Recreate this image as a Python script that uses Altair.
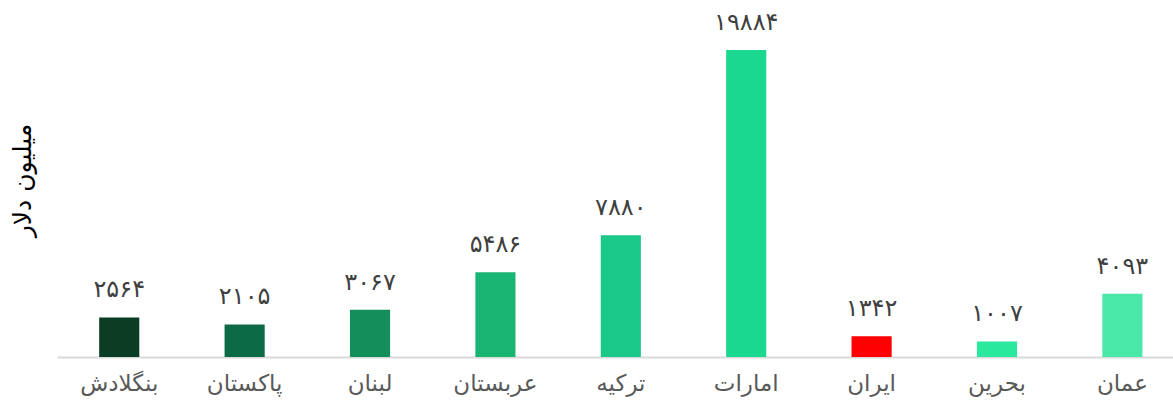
import altair as alt
import pandas as pd

countries = ["بنگلادش", "پاکستان", "لبنان", "عربستان", "ترکیه", "امارات", "ایران", "بحرین", "عمان"]
values = [2564, 2105, 3067, 5486, 7880, 19884, 1342, 1007, 4093]
colors = ["#0b3d25", "#0c6a46", "#138f5c", "#19b572", "#1ac98a", "#1ad890", "#ff0000", "#2ae89e", "#4ae8a8"]

fa_digits = str.maketrans("0123456789", "۰۱۲۳۴۵۶۷۸۹")
df = pd.DataFrame({
    "country": countries,
    "value": values,
    "label": [str(v).translate(fa_digits) for v in values],
})

FONT = "DejaVu Sans"

x = alt.X("country:N", sort=countries,
          scale=alt.Scale(paddingInner=0.68, paddingOuter=0.29, align=0.58),
          axis=alt.Axis(title=None, labelAngle=0, labelFontSize=23, labelColor="#595959",
                        labelFont=FONT, labelPadding=15, ticks=False,
                        domainColor="#d9d9d9", domainWidth=2))
y = alt.Y("value:Q", scale=alt.Scale(domain=[0, 23120], nice=False),
          axis=alt.Axis(title="میلیون دلار", labels=False, ticks=False, grid=False, domain=False,
                        titleFont=FONT, titleFontSize=25, titleFontWeight="normal", titleColor="#000000",
                        titleAngle=270, titleX=-35, titleY=180, titleAlign="center",
                        titleBaseline="middle"))

bars = alt.Chart(df).mark_bar().encode(
    x=x, y=y,
    color=alt.Color("country:N", sort=countries,
                    scale=alt.Scale(domain=countries, range=colors), legend=None),
)
text = alt.Chart(df).mark_text(font=FONT, fontSize=24, color="#404040", baseline="alphabetic", dy=-20).encode(
    x=alt.X("country:N", sort=countries), y="value:Q", text="label:N"
)

chart = (bars + text).properties(
    width=1116, height=357,
    padding={"left": 57, "top": 0, "right": 0, "bottom": 46},
    autosize=alt.AutoSizeParams(type="none"),
    view=alt.ViewBackground(stroke="transparent", strokeWidth=0),
).configure_view(strokeWidth=0, stroke="transparent").configure_axis(grid=False).configure(background="white")

chart.save("out.html", embed_options={"renderer": "svg", "actions": False})
